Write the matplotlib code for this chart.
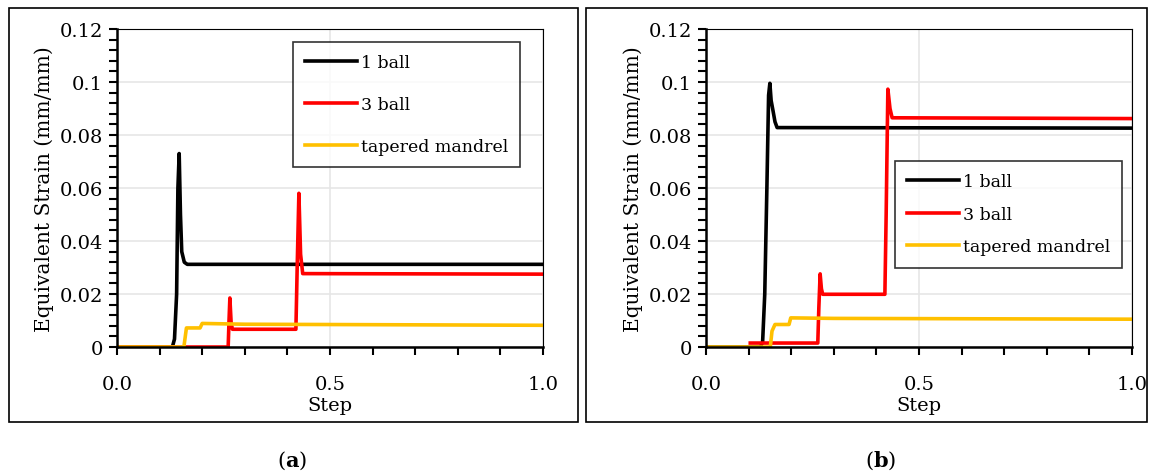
import numpy as np
import matplotlib.pyplot as plt
from matplotlib.patches import Rectangle
from matplotlib.ticker import MultipleLocator

# panel (a) data
a_step_1ball = [0, 0.13, 0.135, 0.14, 0.143, 0.146, 0.149, 0.152, 0.158, 0.165, 1.0]
a_strain_1ball = [0, 0, 0.003, 0.02, 0.06, 0.073, 0.05, 0.036, 0.032, 0.0312, 0.0312]
a_step_3ball = [0, 0.261, 0.263, 0.265, 0.268, 0.271, 0.42, 0.423, 0.427, 0.431, 0.436, 1.0]
a_strain_3ball = [0, 0, 0.01, 0.0185, 0.009, 0.0067, 0.0067, 0.03, 0.058, 0.035, 0.0277, 0.0275]
a_step_taper = [0, 0.157, 0.163, 0.195, 0.2, 0.3, 1.0]
a_strain_taper = [0, 0, 0.0072, 0.0072, 0.0089, 0.0086, 0.0082]

# panel (b) data
b_step_1ball = [0, 0.128, 0.133, 0.138, 0.143, 0.147, 0.15, 0.153, 0.157, 0.162, 0.167, 1.0]
b_strain_1ball = [0, 0, 0.002, 0.02, 0.06, 0.095, 0.0995, 0.093, 0.0895, 0.085, 0.0828, 0.0826]
b_step_3ball = [0.104, 0.2625, 0.265, 0.268, 0.271, 0.274, 0.42, 0.423, 0.427, 0.432, 0.437, 1.0]
b_strain_3ball = [0.0015, 0.0015, 0.015, 0.0276, 0.022, 0.0199, 0.0199, 0.05, 0.0973, 0.09, 0.0865, 0.0862]
b_step_taper = [0, 0.151, 0.155, 0.162, 0.195, 0.199, 0.3, 1.0]
b_strain_taper = [0, 0, 0.006, 0.0085, 0.0085, 0.011, 0.0108, 0.0105]

labels = ["1 ball", "3 ball", "tapered mandrel"]
colors = ["black", "#ff0000", "#ffc000"]

plt.rcParams['font.family'] = ['DejaVu Serif']
plt.rcParams['mathtext.fontset'] = 'dejavuserif'

fig = plt.figure(figsize=(11.56, 4.77), dpi=100)

# outer frames round each panel
fig.add_artist(Rectangle((0.0078, 0.113), 0.4922, 0.868, transform=fig.transFigure,
                         fill=False, edgecolor="black", linewidth=1.2))
fig.add_artist(Rectangle((0.507, 0.113), 0.4853, 0.868, transform=fig.transFigure,
                         fill=False, edgecolor="black", linewidth=1.2))

panels = [
    (0.1012, [(a_step_1ball, a_strain_1ball), (a_step_3ball, a_strain_3ball), (a_step_taper, a_strain_taper)],
     (0.413, 0.96), 1.45, "a", 0.253),
    (0.6107, [(b_step_1ball, b_strain_1ball), (b_step_3ball, b_strain_3ball), (b_step_taper, b_strain_taper)],
     (0.444, 0.585), 0.9, "b", 0.762),
]

for left, series, leg_anchor, spacing, cap, cap_x in panels:
    ax = fig.add_axes([left, 0.2704, 0.3685, 0.6667])
    for (xs, ys), lab, col in zip(series, labels, colors):
        ax.plot(xs, ys, color=col, linewidth=2.6, label=lab, solid_joinstyle="round")
    ax.set_xlim(0, 1.0)
    ax.set_ylim(0, 0.12)
    ax.xaxis.set_minor_locator(MultipleLocator(0.1))
    ax.yaxis.set_minor_locator(MultipleLocator(0.004))
    ax.set_xticks([0, 0.5, 1.0])
    ax.set_xticklabels(["0.0", "0.5", "1.0"])
    ax.set_yticks([0, 0.02, 0.04, 0.06, 0.08, 0.1, 0.12])
    ax.set_yticklabels(["0", "0.02", "0.04", "0.06", "0.08", "0.1", "0.12"])
    ax.grid(True, which="major", color="#e6e6e6", linewidth=1.2)
    ax.set_axisbelow(True)
    ax.tick_params(axis="both", which="both", direction="out", width=1.5, labelsize=14)
    ax.tick_params(axis="x", which="both", length=6, pad=14)
    ax.tick_params(axis="y", which="both", length=6, pad=4)
    for s in ["left", "bottom"]:
        ax.spines[s].set_linewidth(1.8)
    for s in ["top", "right"]:
        ax.spines[s].set_linewidth(0.8)
    ax.set_xlabel("Step", fontsize=14, labelpad=2)
    ax.set_ylabel("Equivalent Strain (mm/mm)", fontsize=14.5, labelpad=4)
    leg = ax.legend(loc="upper left", bbox_to_anchor=leg_anchor, fontsize=12.5,
                    frameon=True, fancybox=False, edgecolor="black", handlelength=3.0,
                    handletextpad=0.2, labelspacing=spacing, borderpad=0.7,
                    borderaxespad=0)
    leg.get_frame().set_linewidth(1.2)
    fig.text(cap_x, 0.022, r"($\mathbf{" + cap + r"}$)", fontsize=15, ha="center")

fig.savefig("out.png", dpi=100)
